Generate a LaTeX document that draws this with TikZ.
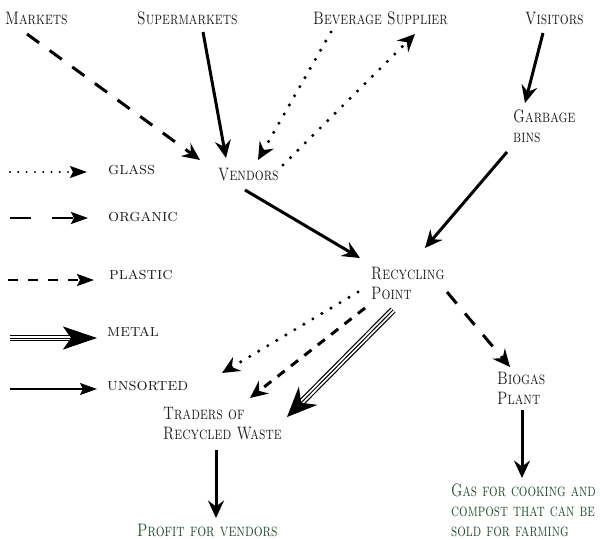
\documentclass[tikz,border=0pt]{standalone}
\usepackage{graphicx}
\usetikzlibrary{arrows.meta,calc}
\definecolor{outgreen}{RGB}{36,78,46}
% narrow small capitals, one line at a time
\newcommand\sqz[1]{\scalebox{0.78}[1]{#1}}
\newcommand\sqzz[1]{\scalebox{0.75}[1]{#1}}
\begin{document}
\begin{tikzpicture}[x=1pt,y=-1pt,
  every node/.style={inner sep=0pt, anchor=base west, align=left,
    font=\fontsize{18}{19.5}\selectfont\scshape, text=black!88},
  outcome/.style={text=outgreen, font=\fontsize{18}{19.8}\selectfont\scshape},
  legendlabel/.style={font=\fontsize{17.5}{19.5}\selectfont\scshape},
  tip/.style={-{Stealth[length=17.5pt,width=16pt,inset=6pt]}},
  unsorted/.style={tip, line width=3pt},
  organic/.style={tip, line width=3pt, dash pattern=on 15pt off 13pt},
  plastic/.style={tip, line width=3pt, dash pattern=on 9pt off 8pt},
  glass/.style={tip, line width=3.4pt, line cap=round, dash pattern=on 0pt off 10.5pt},
  metal/.style={-{Stealth[length=30pt,width=26pt,inset=10pt]}, line width=1pt,
    preaction={draw, -, line width=7pt, shorten >=20pt},
    preaction={draw, -, white, line width=4.6pt, shorten >=19pt}},
  legtip/.style={-{Stealth[length=17pt,width=12pt,inset=3pt]}},
  legunsorted/.style={legtip, line width=2pt},
  legorganic/.style={legtip, line width=2.4pt, dash pattern=on 21pt off 21pt},
  legplastic/.style={legtip, line width=2.4pt, dash pattern=on 10pt off 10pt},
  legglass/.style={legtip, line width=2.2pt, line cap=round, dash pattern=on 0pt off 8.3pt},
  legmetal/.style={-{Stealth[length=34pt,width=23pt,inset=8pt]}, line width=0.9pt,
    preaction={draw, -, line width=6.5pt, shorten >=24pt},
    preaction={draw, -, white, line width=4.2pt, shorten >=23pt}},
]
\useasboundingbox (0,0) rectangle (600,539);

% sources
\node (markets) at (5,24) {\sqz{Markets}};
\node (sup) at (137,24) {\sqz{Supermarkets}};
\node (bev) at (313,24) {\sqz{Beverage Supplier}};
\node (vis) at (525,24) {\sqz{Visitors}};

% intermediate stations (placed by the baseline of their last line)
\node (vendors) at (218,180) {\sqz{Vendors}};
\node (bins) at (513,142) {\sqz{Garbage}\\\sqz{bins}};
\node (recyc) at (371,299) {\sqz{Recycling}\\\sqz{Point}};
\node (biogas) at (497,404) {\sqz{Biogas}\\\sqz{Plant}};
\node (traders) at (163,439) {\sqz{Traders of}\\\sqz{Recycled Waste}};

% outcomes
\node[outcome] (profit) at (137,536) {\sqz{Profit for vendors}};
\node[outcome] (gas) at (451,536) {\sqzz{Gas for cooking and}\\\sqzz{compost that can be}\\\sqzz{sold for farming}};

% legend
\node[legendlabel] (lglass) at (108,174) {glass};
\node[legendlabel] (lorganic) at (108,221) {organic};
\node[legendlabel] (lplastic) at (109,279) {plastic};
\node[legendlabel] (lmetal) at (107,336) {metal};
\node[legendlabel] (lunsorted) at (107,390) {unsorted};

\coordinate (g0) at (10,172);   \coordinate (g1) at (87,172);
\coordinate (o0) at (10,218);   \coordinate (o1) at (88,218);
\coordinate (p0) at (8,280);    \coordinate (p1) at (94,280);
\coordinate (m0) at (10,338);   \coordinate (m1) at (97,338);
\coordinate (u0) at (10,389);   \coordinate (u1) at (97,389);
\draw[legglass] (g0) -- (g1);
\draw[legorganic] (o0) -- (o1);
\draw[legplastic] (p0) -- (p1);
\draw[legmetal] (m0) -- (m1);
\draw[legunsorted] (u0) -- (u1);

% flows
\draw[organic] ([shift={(22,10)}]markets.base west) -- ([shift={(-18,-20)}]vendors.base west);
\draw[unsorted] ([shift={(66,8)}]sup.base west) -- ([shift={(8,-22)}]vendors.base west);
\draw[glass] ([shift={(18,8)}]bev.base west) -- ([shift={(40,-20)}]vendors.base west);
\draw[glass] ([shift={(65,-15)}]vendors.base west) -- ([shift={(102,10)}]bev.base west);
\draw[unsorted] ([shift={(18,9)}]vis.base west) -- ([shift={(12,-39)}]bins.base west);
\draw[unsorted] ([shift={(-6,10)}]bins.base west) -- ([shift={(54,-51)}]recyc.base west);
\draw[unsorted] ([shift={(27,10)}]vendors.base west) -- ([shift={(-11,-41)}]recyc.base west);
\draw[glass] ([shift={(-13,-7)}]recyc.base west) -- ([shift={(59,-66)}]traders.base west);
\draw[plastic] ([shift={(-6,9)}]recyc.base west) -- ([shift={(87,-41)}]traders.base west);
\draw[metal] ([shift={(22,11)}]recyc.base west) -- ([shift={(124,-22)}]traders.base west);
\draw[organic] ([shift={(76,-7)}]recyc.base west) -- ([shift={(13,-37)}]biogas.base west);
\draw[unsorted] ([shift={(25,6)}]biogas.base west) -- ([shift={(71,-58)}]gas.base west);
\draw[unsorted] ([shift={(53,11)}]traders.base west) -- ([shift={(79,-18)}]profit.base west);
\end{tikzpicture}
\end{document}
